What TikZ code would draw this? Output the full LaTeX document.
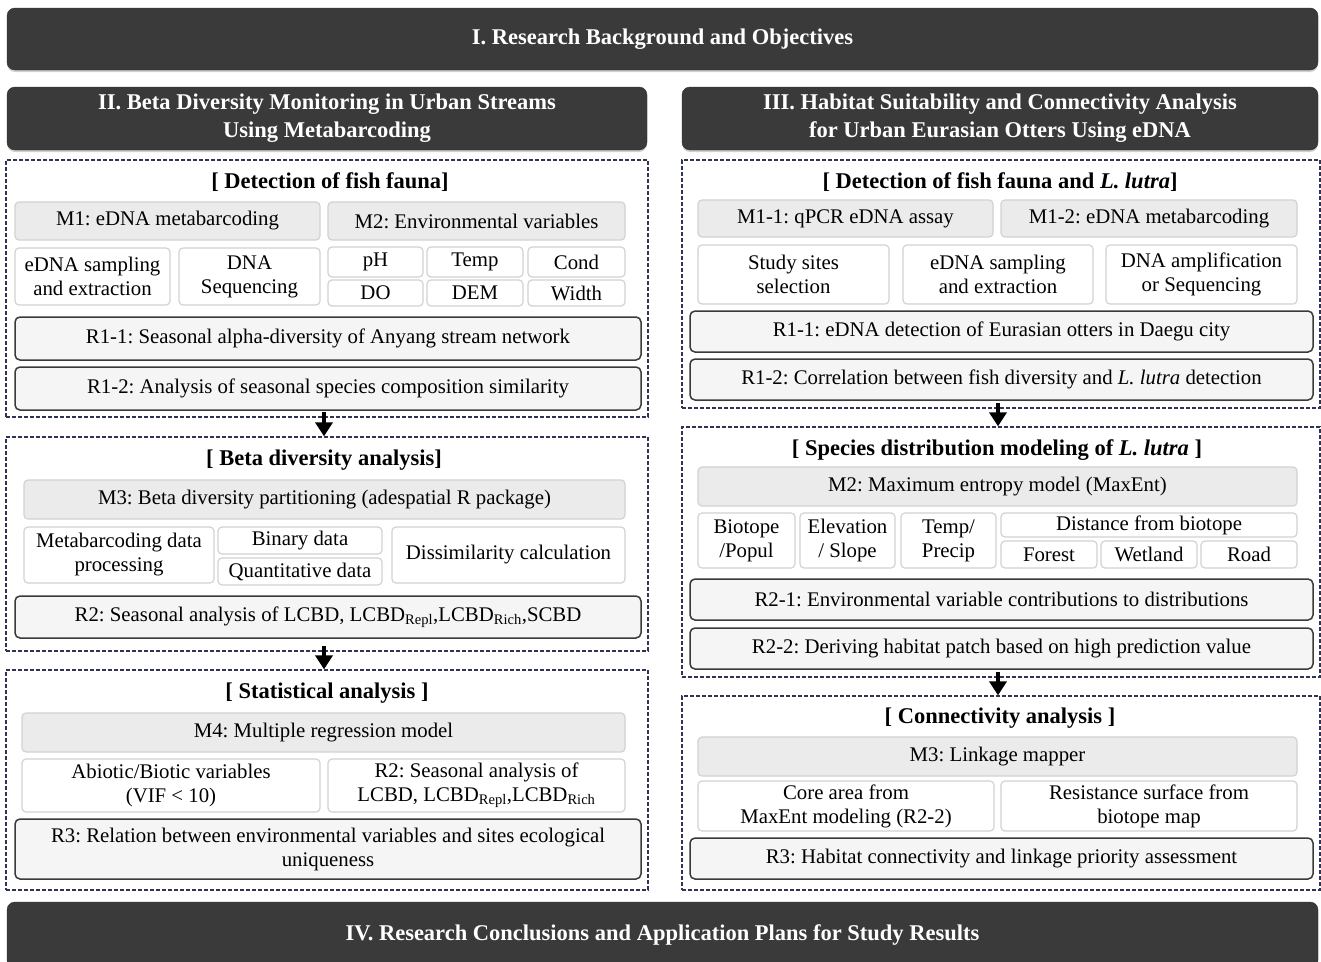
\documentclass[tikz,border=0pt]{standalone}
\usepackage{fontspec}
\setmainfont{Liberation Serif}
\frenchspacing
\usetikzlibrary{arrows.meta,shadows}
\definecolor{hdark}{HTML}{3A3A3A}
\definecolor{mfill}{HTML}{EBEBEB}
\definecolor{mline}{HTML}{D2D2D2}
\definecolor{rfill}{HTML}{F5F5F5}
\definecolor{fline}{HTML}{2E3452}
\newcommand\bx[7]{\node[#1,minimum width={#5-#3},minimum height={#6-#4}] (#2) at ({(#3+#5)/2},{(#4+#6)/2}) {#7};}
\tikzset{
  base/.style={inner sep=0pt,align=center,font=\fontsize{20.8}{24}\selectfont},
  hbox/.style={base,fill=hdark,draw=hdark!80!black,rounded corners=8pt,text=white,font=\fontsize{22.5}{28}\selectfont\bfseries,drop shadow={shadow xshift=0pt,shadow yshift=-2pt,fill=gray!60,opacity=0.6}},
  mbox/.style={base,fill=mfill,draw=mline,line width=1.2pt,rounded corners=4pt},
  sbox/.style={base,fill=white,draw=mline,line width=1.2pt,rounded corners=4pt},
  rbox/.style={base,fill=rfill,draw=hdark,line width=1.5pt,rounded corners=5pt},
  frame/.style={draw=fline,dash pattern=on 4pt off 2pt,line width=1.3pt,inner sep=0pt},
  ftitle/.style={inner sep=0pt,font=\fontsize{22.5}{24}\selectfont\bfseries},
  arr/.style={line width=3.5pt,-{Triangle[width=17pt,length=14pt]}}
}
\begin{document}
\begin{tikzpicture}[x=1pt,y=-1pt]
\useasboundingbox (0,0) rectangle (1321,961);
\fill[white] (0,0) rectangle (1321,961);
% headers
\bx{hbox}{h1}{7}{8}{1318}{70}{I. Research Background and Objectives}
\bx{hbox}{h2}{7}{87}{647}{150}{II. Beta Diversity Monitoring in Urban Streams\\Using Metabarcoding}
\bx{hbox}{h3}{682}{87}{1318}{150}{III. Habitat Suitability and Connectivity Analysis\\for Urban Eurasian Otters Using eDNA}
\bx{hbox}{h4}{7}{902}{1318}{968}{IV. Research Conclusions and Application Plans for Study Results}
% frames left
\bx{frame}{fl1}{6}{160}{648}{417}{}
\bx{frame}{fl2}{6}{437}{648}{651}{}
\bx{frame}{fl3}{6}{670}{648}{890}{}
% frames right
\bx{frame}{fr1}{682}{160}{1320}{408}{}
\bx{frame}{fr2}{682}{427}{1320}{677}{}
\bx{frame}{fr3}{682}{696}{1320}{890}{}
% ---- left frame 1
\node[ftitle] (tl1) at (330,182) {[ Detection of fish fauna]};
\bx{mbox}{lm1}{15}{202}{320}{240}{M1: eDNA metabarcoding}
\bx{mbox}{lm2}{328}{202}{625}{240}{M2: Environmental variables}
\bx{sbox}{ls1}{15}{248}{170}{305}{eDNA sampling\\and extraction}
\bx{sbox}{ls2}{179}{248}{320}{305}{DNA\\Sequencing}
\bx{sbox}{lph}{328}{247}{423}{277}{pH}
\bx{sbox}{ltemp}{427}{247}{523}{277}{Temp}
\bx{sbox}{lcond}{528}{247}{625}{277}{Cond}
\bx{sbox}{ldo}{328}{280}{423}{306}{DO}
\bx{sbox}{ldem}{427}{280}{523}{306}{DEM}
\bx{sbox}{lwid}{528}{280}{625}{306}{Width}
\bx{rbox}{lr11}{15}{317}{641}{360}{R1-1: Seasonal alpha-diversity of Anyang stream network}
\bx{rbox}{lr12}{15}{367}{641}{410}{R1-2: Analysis of seasonal species composition similarity}
% ---- left frame 2
\node[ftitle] (tl2) at (324,460) {[ Beta diversity analysis]};
\bx{mbox}{lm3}{24}{480}{625}{519}{M3: Beta diversity partitioning (adespatial R package)}
\bx{sbox}{lmd}{24}{527}{214}{583}{Metabarcoding data\\processing}
\bx{sbox}{lbin}{218}{527}{382}{554}{Binary data}
\bx{sbox}{lqua}{218}{558}{382}{585}{Quantitative data}
\bx{sbox}{ldis}{392}{527}{625}{583}{Dissimilarity calculation}
\bx{rbox}{lr2}{15}{596}{641}{638}{R2: Seasonal analysis of LCBD, LCBD\textsubscript{Repl},LCBD\textsubscript{Rich},SCBD}
% ---- left frame 3
\node[ftitle] (tl3) at (327,693) {[ Statistical analysis ]};
\bx{mbox}{lm4}{22}{713}{625}{752}{M4: Multiple regression model}
\bx{sbox}{lab}{22}{759}{320}{812}{Abiotic/Biotic variables\\(VIF < 10)}
\bx{sbox}{lsea}{328}{759}{625}{812}{R2: Seasonal analysis of\\LCBD, LCBD\textsubscript{Repl},LCBD\textsubscript{Rich}}
\bx{rbox}{lr3}{15}{819}{641}{879}{R3: Relation between environmental variables and sites ecological\\uniqueness}
% ---- right frame 1
\node[ftitle] (tr1) at (1000,182) {[ Detection of fish fauna and \textit{L. lutra}]};
\bx{mbox}{rm11}{698}{200}{993}{237}{M1-1: qPCR eDNA assay}
\bx{mbox}{rm12}{1001}{200}{1297}{237}{M1-2: eDNA metabarcoding}
\bx{sbox}{rs1}{698}{245}{889}{304}{Study sites\\selection}
\bx{sbox}{rs2}{903}{245}{1093}{304}{eDNA sampling\\and extraction}
\bx{sbox}{rs3}{1106}{245}{1297}{304}{DNA amplification\\or Sequencing}
\bx{rbox}{rr11}{690}{311}{1313}{352}{R1-1: eDNA detection of Eurasian otters in Daegu city}
\bx{rbox}{rr12}{690}{359}{1313}{400}{R1-2: Correlation between fish diversity and \textit{L. lutra} detection}
% ---- right frame 2
\node[ftitle] (tr2) at (997,450) {[ Species distribution modeling of \textit{L. lutra} ]};
\bx{mbox}{rm2}{698}{467}{1297}{506}{M2: Maximum entropy model (MaxEnt)}
\bx{sbox}{rbio}{698}{513}{795}{568}{Biotope\\/Popul}
\bx{sbox}{relev}{800}{513}{895}{568}{Elevation\\/ Slope}
\bx{sbox}{rtp}{901}{513}{996}{568}{Temp/\\Precip}
\bx{sbox}{rdist}{1001}{513}{1297}{537}{Distance from biotope}
\bx{sbox}{rfor}{1001}{541}{1097}{568}{Forest}
\bx{sbox}{rwet}{1101}{541}{1197}{568}{Wetland}
\bx{sbox}{rroad}{1201}{541}{1297}{568}{Road}
\bx{rbox}{rr21}{690}{579}{1313}{620}{R2-1: Environmental variable contributions to distributions}
\bx{rbox}{rr22}{690}{628}{1313}{669}{R2-2: Deriving habitat patch based on high prediction value}
% ---- right frame 3
\node[ftitle] (tr3) at (1000,718) {[ Connectivity analysis ]};
\bx{mbox}{rm3}{698}{737}{1297}{776}{M3: Linkage mapper}
\bx{sbox}{rcore}{698}{781}{994}{831}{Core area from\\MaxEnt modeling (R2-2)}
\bx{sbox}{rres}{1001}{781}{1297}{831}{Resistance surface from\\biotope map}
\bx{rbox}{rr3}{690}{838}{1313}{879}{R3: Habitat connectivity and linkage priority assessment}
% arrows
\draw[arr] ([xshift=-3pt,yshift=6pt]fl1.south) -- ([xshift=-3pt]fl2.north);
\draw[arr] ([xshift=-3pt,yshift=6pt]fl2.south) -- ([xshift=-3pt]fl3.north);
\draw[arr] ([xshift=-3pt,yshift=6pt]fr1.south) -- ([xshift=-3pt]fr2.north);
\draw[arr] ([xshift=-3pt,yshift=6pt]fr2.south) -- ([xshift=-3pt]fr3.north);
\end{tikzpicture}
\end{document}
